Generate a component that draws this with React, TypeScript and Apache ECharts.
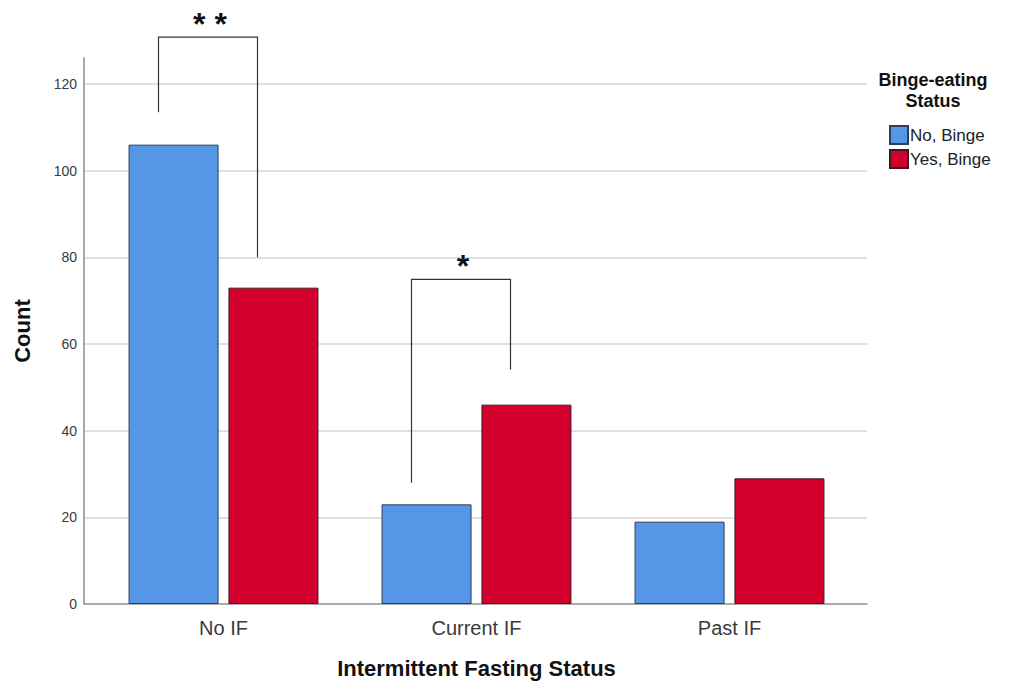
import React, { useEffect, useRef } from "react";
import * as echarts from "echarts";

const categories = ["No IF", "Current IF", "Past IF"];
const noBinge = [106, 23, 19];
const yesBinge = [73, 46, 29];
const seriesNames = ["No, Binge", "Yes, Binge"];
const yTicks = [0, 20, 40, 60, 80, 100, 120];
// significance brackets: category, value of left foot, top, right foot, label
const brackets = [
  { cat: "No IF", left: 113.5, top: 130.8, right: 80, label: "* *" },
  { cat: "Current IF", left: 28, top: 74.9, right: 54.1, label: "*" },
];

const FONT = "'Liberation Sans', Arial, sans-serif";

export default function App() {
  const ref = useRef<HTMLDivElement>(null);
  useEffect(() => {
    if (!ref.current) return;
    const chart = echarts.init(ref.current, undefined, { renderer: "svg" });
    const yMax = 126;
    chart.setOption({
      animation: false,
      backgroundColor: "#ffffff",
      textStyle: { fontFamily: FONT },
      grid: [
        { left: 84, top: 58, width: 783, height: 546, outerBoundsMode: "none", containLabel: false },
        { left: 97, top: 58, width: 759, height: 546, outerBoundsMode: "none", containLabel: false },
      ],
      xAxis: [
        {
          type: "category",
          gridIndex: 0,
          data: categories,
          axisLine: { show: true, lineStyle: { color: "#9a9a9a", width: 1.5 } },
          axisTick: { show: false },
          axisLabel: { show: false },
          splitLine: { show: false },
        },
        {
          type: "category",
          gridIndex: 1,
          data: categories,
          axisLine: { show: false },
          axisTick: { show: false },
          axisLabel: { color: "#3a3a3a", fontSize: 20, margin: 14, fontFamily: FONT },
          name: "Intermittent Fasting Status",
          nameLocation: "middle",
          nameGap: 53,
          nameTextStyle: { color: "#111", fontSize: 22, fontWeight: "bold", fontFamily: FONT },
        },
      ],
      yAxis: [
        {
          type: "value",
          gridIndex: 0,
          min: 0,
          max: yMax,
          interval: 20,
          axisLine: { show: true, lineStyle: { color: "#a8a8a8", width: 2 } },
          axisTick: { show: false },
          axisLabel: {
            color: "#3a3a3a",
            fontSize: 14,
            margin: 7,
            showMaxLabel: false,
            fontFamily: FONT,
            formatter: (v: number) => (yTicks.includes(v) ? String(v) : ""),
          },
          splitLine: { show: true, showMaxLine: false, lineStyle: { color: "#d4d4d4", width: 1.5 } },
          name: "Count",
          nameLocation: "middle",
          nameRotate: 90,
          nameGap: 51,
          nameTextStyle: { color: "#111", fontSize: 22, fontWeight: "bold", fontFamily: FONT },
        },
        {
          type: "value",
          gridIndex: 1,
          min: 0,
          max: yMax,
          show: false,
          splitLine: { show: false },
        },
      ],
      legend: {
        orient: "vertical",
        left: 884,
        top: 120,
        itemWidth: 18,
        itemHeight: 18,
        itemGap: 4,
        icon: "rect",
        textStyle: { color: "#222", fontSize: 17, lineHeight: 18, fontFamily: FONT, padding: [0, 0, 0, -3] },
        data: seriesNames,
      },
      series: [
        {
          name: seriesNames[0],
          type: "bar",
          xAxisIndex: 1,
          yAxisIndex: 1,
          data: noBinge,
          barWidth: 90,
          barGap: "11%",
          itemStyle: { color: "#5596E6", borderColor: "#2f3e55", borderWidth: 1 },
        },
        {
          name: seriesNames[1],
          type: "bar",
          xAxisIndex: 1,
          yAxisIndex: 1,
          data: yesBinge,
          barWidth: 90,
          barGap: "11%",
          itemStyle: { color: "#D3002D", borderColor: "#3a1a20", borderWidth: 1 },
        },
      ],
    });

    const graphics: any[] = [
      {
        type: "text",
        x: 933,
        y: 69,
        style: {
          text: "Binge-eating\nStatus",
          fontSize: 18,
          fontWeight: "bold",
          fontFamily: FONT,
          fill: "#111",
          textAlign: "center",
          lineHeight: 21,
        },
      },
    ];
    brackets.forEach((b) => {
      const p = chart.convertToPixel({ gridIndex: 1 } as any, [b.cat, 0]) as number[];
      const cx = p[0];
      const yAt = (v: number) => (chart.convertToPixel({ gridIndex: 1 } as any, [b.cat, v]) as number[])[1];
      const xl = cx - 65;
      const xr = cx + 34;
      graphics.push({
        type: "polyline",
        shape: { points: [[xl, yAt(b.left)], [xl, yAt(b.top)], [xr, yAt(b.top)], [xr, yAt(b.right)]] },
        style: { stroke: "#333", lineWidth: 1.2, fill: "none" },
        z: 10,
      });
      graphics.push({
        type: "text",
        x: (xl + xr) / 2 + 2,
        y: yAt(b.top) + 3,
        style: {
          text: b.label,
          fontSize: 32,
          fontWeight: "bold",
          fontFamily: FONT,
          fill: "#111",
          textAlign: "center",
          textVerticalAlign: "bottom",
        },
        z: 10,
      });
    });
    chart.setOption({ graphic: graphics });

    return () => chart.dispose();
  }, []);
  return <div ref={ref} style={{ width: 1012, height: 681, marginLeft: -8, marginTop: -8 }} />;
}
